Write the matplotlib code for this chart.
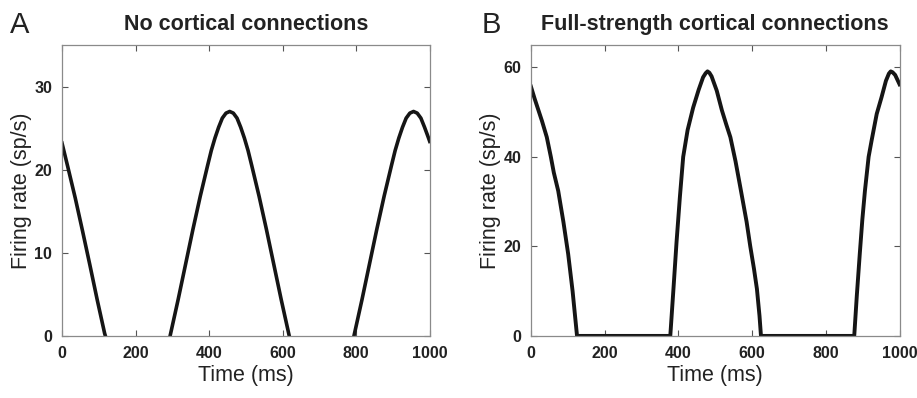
import numpy as np
import matplotlib
matplotlib.use("Agg")
import matplotlib.pyplot as plt

# panel A: no cortical connections (curve drops below 0 -> hidden, so gaps)
time_a = [0, 16, 36, 56, 76, 96, 116, 118, np.nan,
          294, 316, 336, 356, 376, 396, 406, 416, 426, 436, 446, 456, 466, 476, 486, 496, 506, 516,
          536, 556, 576, 596, 616, 618, np.nan,
          794, 816, 836, 856, 876, 896, 906, 916, 926, 936, 946, 956, 966, 976, 986, 996, 1000]
rate_a = [23.2, 20.3, 16.6, 12.6, 8.5, 4.3, 0.3, 0.0, np.nan,
          0.0, 4.4, 8.6, 12.8, 16.8, 20.5, 22.3, 23.8, 25.1, 26.2, 26.8, 27.0, 26.8, 26.2, 25.1, 23.8, 22.3, 20.5,
          16.8, 12.8, 8.6, 4.4, 0.4, 0.0, np.nan,
          0.0, 4.4, 8.6, 12.8, 16.8, 20.5, 22.3, 23.8, 25.1, 26.2, 26.8, 27.0, 26.8, 26.2, 25.1, 23.9, 23.4]

# panel B: full-strength cortical connections (rectified at 0)
time_b = [0, 10, 20, 30, 43, 54, 62, 74, 88, 101, 113, 125, 378,
          387, 395, 404, 413, 425, 440, 455, 467, 474, 479, 484, 490, 504, 518, 530, 541, 555, 568,
          585, 595, 605, 613, 620, 624, 877,
          884, 892, 899, 906, 916, 924, 938, 951, 963, 971, 976, 981, 988, 1000]
rate_b = [55.7, 53.0, 50.5, 48.0, 44.4, 40.0, 36.5, 32.4, 25.5, 18.3, 10.0, 0.0, 0.0,
          11.0, 21.0, 31.0, 40.0, 46.0, 51.0, 55.0, 57.8, 58.7, 59.1, 58.8, 58.0, 54.8, 50.4, 47.2, 44.4, 39.0, 33.2,
          25.5, 20.0, 15.0, 10.5, 4.5, 0.0, 0.0,
          9.0, 18.3, 26.0, 32.4, 40.0, 43.6, 49.6, 53.3, 57.0, 58.6, 59.1, 58.9, 58.3, 56.2]

titles = ["No cortical connections", "Full-strength cortical connections"]
letters = ["A", "B"]
ylims = [35, 65]
yticks = [[0, 10, 20, 30], [0, 20, 40, 60]]
xticks = [0, 200, 400, 600, 800, 1000]

plt.rcParams['font.family'] = ['Liberation Sans', 'DejaVu Sans']


def style_axis(ax, ymax, yt):
    ax.set_xlim(0, 1000)
    ax.set_ylim(0, ymax)
    ax.set_xticks(xticks)
    ax.set_yticks(yt)
    for s in ax.spines.values():
        s.set_color('#8a8a8a')
        s.set_linewidth(0.9)
    ax.tick_params(direction='in', length=4, width=0.8, color='#555555',
                   top=True, right=True, labelsize=11.5, pad=7)
    for lab in ax.get_xticklabels() + ax.get_yticklabels():
        lab.set_fontweight('bold')
        lab.set_color('#222222')
    ax.set_xlabel("Time (ms)", fontsize=15.5, labelpad=3, color='#222222')
    ax.set_ylabel("Firing rate (sp/s)", fontsize=15.5, labelpad=2, color='#222222')


def main():
    fig = plt.figure(figsize=(9.17, 3.98), dpi=100)
    ax_a = fig.add_axes([0.0676, 0.156, 0.401, 0.731])
    ax_b = fig.add_axes([0.579, 0.156, 0.402, 0.731])

    ax_a.plot(time_a, rate_a, color='#151515', linewidth=2.6, solid_joinstyle='round')
    ax_b.plot(time_b, rate_b, color='#151515', linewidth=2.8, solid_joinstyle='round')

    for ax, ymax, yt, title in zip([ax_a, ax_b], ylims, yticks, titles):
        style_axis(ax, ymax, yt)
        ax.set_title(title, fontsize=15.5, fontweight='bold', pad=11, color='#222222')

    fig.text(0.011, 0.917, letters[0], fontsize=21, color='#222222', va='baseline')
    fig.text(0.525, 0.917, letters[1], fontsize=21, color='#222222', va='baseline')

    fig.savefig("out.png", dpi=100)


if __name__ == "__main__":
    main()
